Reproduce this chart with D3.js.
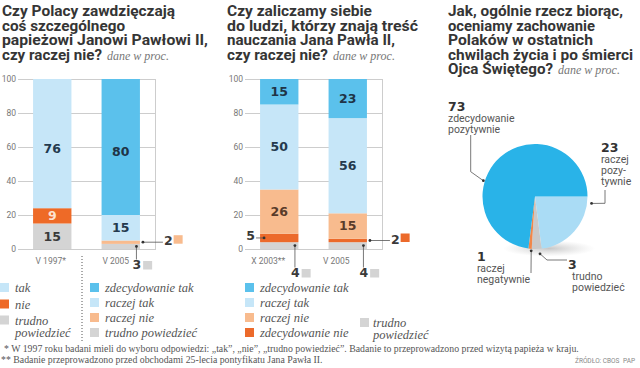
<!DOCTYPE html>
<html><head><meta charset="utf-8">
<script src="https://cdn.jsdelivr.net/npm/d3@7"></script>
<style>body{margin:0;background:#fff} svg{display:block}</style>
</head><body><svg id="c" width="640" height="368"></svg>
<script>
// ---------------- DATA ----------------
const c1Categories = ["V 1997*", "V 2005"];
const c1Trudno    = [15, 3];
const c1RaczejNie = [0, 2];
const c1Nie       = [9, 0];
const c1RaczejTak = [0, 15];
const c1Tak       = [76, 0];
const c1ZdecTak   = [0, 80];

const c2Categories = ["X 2003**", "V 2005"];
const c2Trudno    = [4, 4];
const c2ZdecNie   = [5, 2];
const c2RaczejNie = [26, 15];
const c2RaczejTak = [50, 56];
const c2ZdecTak   = [15, 23];

const yTicks = [0, 20, 40, 60, 80, 100];

const pieNames  = ["raczej pozytywnie", "trudno powiedzieć", "raczej negatywnie", "zdecydowanie pozytywnie"];
const pieValues = [23, 3, 1, 73];
const pieLines  = [["raczej", "pozy-", "tywnie"], ["trudno", "powiedzieć"], ["raczej", "negatywnie"], ["zdecydowanie", "pozytywnie"]];

const titles1 = ["Czy Polacy zawdzięczają", "coś szczególnego", "papieżowi Janowi Pawłowi II,", "czy raczej nie?"];
const titles2 = ["Czy zaliczamy siebie", "do ludzi, którzy znają treść", "nauczania Jana Pawła II,", "czy raczej nie?"];
const titles3 = ["Jak, ogólnie rzecz biorąc,", "oceniamy zachowanie", "Polaków w ostatnich", "chwilach życia i po śmierci", "Ojca Świętego?"];
const subTitle = "dane w proc.";

const legend1a = [["tak"], ["nie"], ["trudno", "powiedzieć"]];
const legend1b = ["zdecydowanie tak", "raczej tak", "raczej nie", "trudno powiedzieć"];
const legend2a = ["zdecydowanie tak", "raczej tak", "raczej nie", "zdecydowanie nie"];
const legend2b = ["trudno", "powiedzieć"];

const foot1 = "* W 1997 roku badani mieli do wyboru odpowiedzi: „tak”, „nie”, „trudno powiedzieć”. Badanie to przeprowadzono przed wizytą papieża w kraju.";
const foot2 = "** Badanie przeprowadzono przed obchodami 25-lecia pontyfikatu Jana Pawła II.";
const source = "ŹRÓDŁO: CBOS";
const agency = "PAP";

// ---------------- STYLE / LAYOUT ----------------
const F_SANS = "Roboto, 'Open Sans', sans-serif";
const F_NUM = "'DejaVu Sans', sans-serif";
const F_SERIF = "'Liberation Serif', 'DejaVu Serif', serif";
const COL = {
  trudno: "#d4d4d4", raczejNie: "#f8bb8e", nie: "#ee6a27", zdecNie: "#ec6a2b",
  raczejTak: "#c6e6f8", tak: "#c6e6f8", zdecTak: "#5bc1ec"
};
const LBL = {
  trudno: "#3a3a3a", raczejNie: "#5a3b2a", nie: "#fde3cf", zdecNie: "#fde3cf",
  raczejTak: "#243a4e", tak: "#243a4e", zdecTak: "#1f3447"
};
const PIE_COL = ["#aadcf5", "#c9c9c9", "#f0874a", "#29b3e8"];
const titleWidths1 = [173, 123, 206, 100];
const titleWidths2 = [145, 191, 168, 101];
const titleWidths3 = [175, 147, 145, 185, 105];

const svg = d3.select("#c");
const y = d3.scaleLinear().domain([0, 100]).range([249, 79]);

// ---------------- TITLES ----------------
function title(lines, widths, x0) {
  const g = svg.append("g");
  lines.forEach((t, i) => {
    g.append("text").attr("x", x0).attr("y", 16 + i * 14.5)
      .attr("font-family", F_SANS).attr("font-weight", 700).attr("font-size", 14.5)
      .attr("textLength", widths[i]).attr("lengthAdjust", "spacingAndGlyphs")
      .attr("fill", "#353535").text(t);
  });
  g.append("text").attr("x", x0 + widths[widths.length - 1] + 5).attr("y", 16 + (lines.length - 1) * 14.5)
    .attr("font-family", F_SERIF).attr("font-style", "italic").attr("font-size", 12)
    .attr("fill", "#777").text(subTitle);
}
title(titles1, titleWidths1, 2);
title(titles2, titleWidths2, 227);
title(titles3, titleWidths3, 448);

// ---------------- BAR CHARTS ----------------
function barChart(cfg) {
  const g = svg.append("g");
  const x = d3.scaleBand().domain(cfg.categories).range([cfg.x0, cfg.x1])
    .paddingInner(0.44).paddingOuter(0.22);
  g.selectAll(".grid").data(yTicks).join("line")
    .attr("x1", cfg.x0).attr("x2", cfg.x1)
    .attr("y1", d => y(d) + 0.5).attr("y2", d => y(d) + 0.5)
    .attr("stroke", "#cdcdcd").attr("stroke-width", 1);
  g.append("line").attr("x1", cfg.x1 + 0.5).attr("x2", cfg.x1 + 0.5)
    .attr("y1", y(100)).attr("y2", y(0) + 1).attr("stroke", "#cdcdcd");
  g.selectAll(".tick").data(yTicks).join("text")
    .attr("x", cfg.x0 - 2).attr("y", d => y(d) + 3)
    .attr("text-anchor", "end").attr("font-family", F_SANS).attr("font-size", 8.5)
    .attr("fill", "#777").text(d => d);
  const rows = cfg.categories.map((c, i) => {
    const r = { cat: c };
    cfg.keys.forEach(k => r[k] = cfg.series[k][i]);
    return r;
  });
  const stacked = d3.stack().keys(cfg.keys)(rows);
  stacked.forEach(s => {
    g.selectAll(null).data(s).join("rect")
      .attr("x", d => x(d.data.cat)).attr("width", x.bandwidth())
      .attr("y", d => y(d[1])).attr("height", d => y(d[0]) - y(d[1]))
      .attr("fill", COL[s.key]);
  });
  stacked.forEach(s => {
    g.selectAll(null).data(s.filter(d => d[1] - d[0] >= 9)).join("text")
      .attr("x", d => x(d.data.cat) + x.bandwidth() / 2)
      .attr("y", d => y((d[0] + d[1]) / 2) + 4.4 + (d[1] - d[0] > 70 ? 5 : 0))
      .attr("text-anchor", "middle").attr("font-family", F_NUM).attr("font-weight", 700)
      .attr("font-size", 12.5).attr("fill", LBL[s.key]).text(d => d[1] - d[0]);
  });
  g.selectAll(".xl").data(cfg.categories).join("text")
    .attr("x", (d, i) => x(d) + x.bandwidth() / 2 + cfg.xShift[i]).attr("y", 264)
    .attr("text-anchor", "middle").attr("font-family", F_SANS).attr("font-size", 8.5)
    .attr("fill", "#777").text(d => d);
  cfg.callouts.forEach(c => {
    const s = stacked.find(s => s.key === c.key);
    const d = s[c.bar];
    const v = d[1] - d[0];
    const ym = y((d[0] + d[1]) / 2);
    const bl = x(d.data.cat), br = bl + x.bandwidth();
    const num = (xx, yy, anchor) => g.append("text").attr("x", xx).attr("y", yy)
      .attr("text-anchor", anchor).attr("font-family", F_NUM).attr("font-weight", 700)
      .attr("font-size", 12.5).attr("fill", "#3a3a3a").text(v);
    const line = (x1, y1, x2, y2) => g.append("line").attr("x1", x1).attr("y1", y1)
      .attr("x2", x2).attr("y2", y2).attr("stroke", "#555").attr("stroke-width", 0.8);
    const dot = (xx, yy) => g.append("circle").attr("cx", xx).attr("cy", yy).attr("r", 1.4).attr("fill", "#333");
    if (c.dir === "right") {
      const dx = br + 3;
      line(dx, ym, dx + 20, ym); dot(dx, ym);
      const t = num(dx + 21, ym + 3.2, "start");
      const w = t.node().getComputedTextLength();
      g.append("rect").attr("x", dx + 22 + w).attr("y", ym - 7).attr("width", 9).attr("height", 8.5).attr("fill", COL[c.key]);
    } else if (c.dir === "down") {
      const dx = br - 3.5;
      line(dx, ym, dx, c.end); dot(dx, ym);
      const t = num(dx - 4, c.end + 9.5, "start");
      const w = t.node().getComputedTextLength();
      g.append("rect").attr("x", dx - 2 + w).attr("y", c.end + 1.5).attr("width", 9).attr("height", 8.5).attr("fill", COL[c.key]);
    } else {
      const dx = bl + 4;
      line(bl - 4, ym, dx, ym); dot(dx, ym);
      num(bl - 5, ym + 1.8, "end");
    }
  });
}

barChart({
  categories: c1Categories, x0: 18, x1: 155, xShift: [-1.5, -5],
  keys: ["trudno", "raczejNie", "nie", "raczejTak", "tak", "zdecTak"],
  series: { trudno: c1Trudno, raczejNie: c1RaczejNie, nie: c1Nie, raczejTak: c1RaczejTak, tak: c1Tak, zdecTak: c1ZdecTak },
  callouts: [{ bar: 1, key: "raczejNie", dir: "right" }, { bar: 1, key: "trudno", dir: "down", end: 259.5 }]
});
barChart({
  categories: c2Categories, x0: 245, x1: 382, xShift: [-11, -11.5],
  keys: ["trudno", "zdecNie", "raczejNie", "raczejTak", "zdecTak"],
  series: { trudno: c2Trudno, zdecNie: c2ZdecNie, raczejNie: c2RaczejNie, raczejTak: c2RaczejTak, zdecTak: c2ZdecTak },
  callouts: [{ bar: 0, key: "zdecNie", dir: "left" }, { bar: 0, key: "trudno", dir: "down", end: 267.5 },
             { bar: 1, key: "trudno", dir: "down", end: 267.5 }, { bar: 1, key: "zdecNie", dir: "right" }]
});

svg.append("line").attr("x1", 82).attr("x2", 82).attr("y1", 256).attr("y2", 341)
  .attr("stroke", "#555").attr("stroke-width", 1).attr("stroke-dasharray", "1,2");

// ---------------- LEGENDS ----------------
function legText(x, yy, t) {
  return svg.append("text").attr("x", x).attr("y", yy).attr("font-family", F_SERIF)
    .attr("font-style", "italic").attr("font-size", 12.5).attr("fill", "#555").text(t);
}
function legRect(x, yy, key) {
  svg.append("rect").attr("x", x).attr("y", yy).attr("width", 9).attr("height", 9).attr("fill", COL[key]);
}
const l1aKeys = ["tak", "nie", "trudno"];
const l1aTops = [283, 299.5, 315.5];
legend1a.forEach((lines, i) => {
  legRect(0, l1aTops[i], l1aKeys[i]);
  lines.forEach((t, j) => legText(15, l1aTops[i] + 9 + j * 12, t));
});
const l1bKeys = ["zdecTak", "raczejTak", "raczejNie", "trudno"];
legend1b.forEach((t, i) => { legRect(90, 283 + i * 15, l1bKeys[i]); legText(105, 292 + i * 15, t); });
const l2aKeys = ["zdecTak", "raczejTak", "raczejNie", "zdecNie"];
legend2a.forEach((t, i) => { legRect(245, 283 + i * 15, l2aKeys[i]); legText(260, 292 + i * 15, t); });
legRect(360, 318, "trudno");
legend2b.forEach((t, j) => legText(373, 327 + j * 11.5, t));

// ---------------- PIE ----------------
const R = 52.5, cx = 535, cy = 196.5;
const defs = svg.append("defs");
const rg = defs.append("radialGradient").attr("id", "sh");
rg.append("stop").attr("offset", "0%").attr("stop-color", "#999").attr("stop-opacity", 0.55);
rg.append("stop").attr("offset", "100%").attr("stop-color", "#bbb").attr("stop-opacity", 0);
svg.append("ellipse").attr("cx", cx + 14).attr("cy", cy + 52).attr("rx", 46).attr("ry", 8).attr("fill", "url(#sh)");

const pieG = svg.append("g").attr("transform", `translate(${cx},${cy})`);
const arcs = d3.pie().sort(null).startAngle(Math.PI / 2).endAngle(Math.PI / 2 + 2 * Math.PI)(pieValues);
const arc = d3.arc().innerRadius(0).outerRadius(R);
pieG.selectAll("path").data(arcs).join("path").attr("d", arc).attr("fill", (d, i) => PIE_COL[i]);

const pieAnn = [
  { i: 3, ang: 287, rOff: 1.5, path: [[470.7, 171.7], [470.7, 135]], tx: 448, ty: 111, lx: 0 },
  { i: 0, ang: 97, rOff: 4.5, path: [[605, 203.3], [605, 190]], tx: 601, ty: 152, lx: 0 },
  { i: 2, ang: 184, rOff: 2, path: [[531, 273]], tx: 477, ty: 261, lx: 0 },
  { i: 1, ang: 175, rOff: 5, path: [[547, 260], [567, 260]], tx: 568, ty: 268.5, lx: 4 }
];
pieAnn.forEach(a => {
  const rad = a.ang * Math.PI / 180, rr = R + a.rOff;
  const px = cx + rr * Math.sin(rad), py = cy - rr * Math.cos(rad);
  const pts = [[px, py], ...a.path];
  svg.append("path").attr("d", d3.line()(pts)).attr("fill", "none").attr("stroke", "#555").attr("stroke-width", 0.8);
  svg.append("circle").attr("cx", px).attr("cy", py).attr("r", 1.4).attr("fill", "#333");
  svg.append("text").attr("x", a.tx).attr("y", a.ty).attr("font-family", F_NUM).attr("font-weight", 700)
    .attr("font-size", 12.5).attr("fill", "#333").text(pieValues[a.i]);
  pieLines[a.i].forEach((t, j) => {
    svg.append("text").attr("x", a.tx + a.lx).attr("y", a.ty + 11 + j * 11)
      .attr("font-family", F_SANS).attr("font-size", 10.5).attr("fill", "#555").text(t);
  });
});

// ---------------- FOOTNOTES ----------------
svg.append("text").attr("x", 4).attr("y", 352).attr("font-family", F_SERIF).attr("font-size", 9.8)
  .attr("fill", "#555").text(foot1);
svg.append("text").attr("x", 1).attr("y", 363).attr("font-family", F_SERIF).attr("font-size", 9.8)
  .attr("fill", "#555").text(foot2);
svg.append("text").attr("x", 575).attr("y", 363).attr("font-family", F_SANS).attr("font-size", 6.5)
  .attr("fill", "#888").text(source);
svg.append("text").attr("x", 623).attr("y", 363).attr("font-family", F_SANS).attr("font-size", 6.5)
  .attr("fill", "#888").text(agency);
</script></body></html>
